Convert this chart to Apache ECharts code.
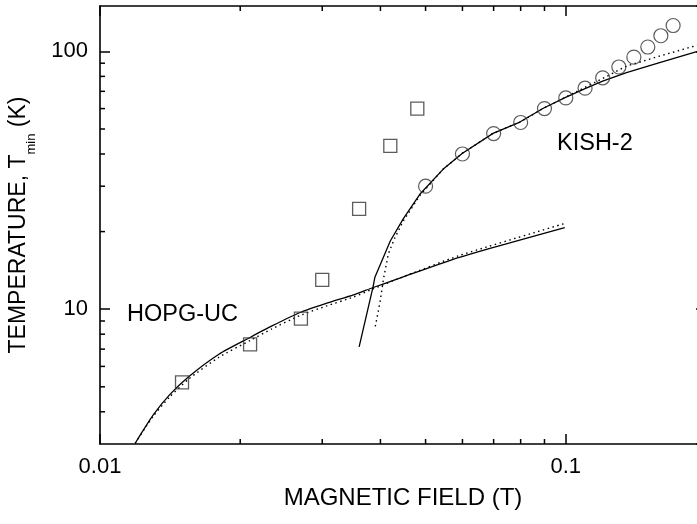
<!DOCTYPE html>
<html>
<head>
<meta charset="utf-8">
<script src="https://cdn.jsdelivr.net/npm/echarts@6/dist/echarts.min.js"></script>
<style>
html,body{margin:0;padding:0;background:#fff;overflow:hidden;width:697px;height:524px;}
#chart{width:720px;height:524px;}
</style>
</head>
<body>
<div id="chart"></div>
<script>
// ---- data ----
const hopgX = [0.015, 0.021, 0.027, 0.030, 0.036, 0.042, 0.048];
const hopgY = [5.2, 7.3, 9.2, 13.0, 24.5, 43, 60];
const kishX = [0.05, 0.06, 0.07, 0.08, 0.09, 0.10, 0.11, 0.12, 0.13, 0.14, 0.15, 0.16, 0.17];
const kishY = [30, 40, 48, 53, 60, 66, 72, 79, 87, 95, 104, 115, 126];

const hopgFitX = [0.0119, 0.0130, 0.0141, 0.0155, 0.0180, 0.0210, 0.0234, 0.0269, 0.0307, 0.0350, 0.0386, 0.0440, 0.0588, 0.0995];
const hopgFitY = [3.02, 3.88, 4.65, 5.47, 6.69, 7.77, 8.61, 9.71, 10.55, 11.36, 12.14, 13.19, 15.86, 20.74];
const hopgDotX = [0.0119, 0.0130, 0.0141, 0.0155, 0.0180, 0.0210, 0.0234, 0.0269, 0.0307, 0.0350, 0.0386, 0.0440, 0.0588, 0.0995];
const hopgDotY = [3.02, 3.84, 4.56, 5.36, 6.51, 7.56, 8.39, 9.46, 10.3, 11.15, 12.0, 13.19, 16.1, 21.5];

const kishFitX = [0.0360, 0.0386, 0.0389, 0.0420, 0.0448, 0.0486, 0.0545, 0.0599, 0.0698, 0.0797, 0.0897, 0.0999, 0.110, 0.120, 0.135, 0.159, 0.191, 0.2];
const kishFitY = [7.14, 12.3, 13.27, 18.39, 22.47, 27.91, 34.88, 40.2, 48.1, 53.2, 60.3, 66.3, 71.7, 76.7, 82.7, 90.4, 99.7, 102];
const kishDotX = [0.0390, 0.0399, 0.0406, 0.0416, 0.0430, 0.0448, 0.0486, 0.0545, 0.0599, 0.0698, 0.0797, 0.0897, 0.0999, 0.110, 0.120, 0.135, 0.159, 0.191, 0.2];
const kishDotY = [8.57, 10.6, 13.07, 16.4, 19.0, 22.0, 27.6, 34.88, 40.2, 48.1, 53.2, 60.3, 66.5, 72.5, 78.5, 87.7, 95.9, 105.5, 108];

const xMinorTicks = [0.02, 0.03, 0.04, 0.05, 0.06, 0.07, 0.08, 0.09];
const yMinorTicks = [4, 5, 6, 7, 8, 9, 20, 30, 40, 50, 60, 70, 80, 90];

const xTitle = 'MAGNETIC FIELD (T)';
const yTitleMain = 'TEMPERATURE, T';
const yTitleSub = 'min';
const yTitleEnd = ' (K)';
const labelHOPG = 'HOPG-UC';
const labelKISH = 'KISH-2';

// ---- chart ----
const FONT = 'Liberation Sans, Arial, Helvetica, sans-serif';
const zip = (xs, ys) => xs.map((x, i) => [x, ys[i]]);
const pow10Label = v => {
  const l = Math.log10(v);
  return Math.abs(l - Math.round(l)) < 1e-6 ? String(+v.toPrecision(3)) : '';
};
const axisCommon = {
  type: 'log', logBase: 10,
  axisLine: { show: true, lineStyle: { color: '#000', width: 1.6 } },
  axisTick: { show: true, inside: true, length: 10, lineStyle: { color: '#000', width: 1.5 } },
  splitLine: { show: false },
  minorTick: { show: false },
};
const chart = echarts.init(document.getElementById('chart'), null, { renderer: 'canvas' });
const tickStyle = { stroke: '#000', lineWidth: 1.5 };

chart.setOption({
  animation: false,
  backgroundColor: '#fff',
  grid: { left: 100, top: 6, width: 606, height: 438, containLabel: false, outerBoundsMode: 'none' },
  xAxis: [
    Object.assign({}, axisCommon, {
      position: 'bottom', min: 0.01, max: 0.2,
      axisLabel: { formatter: pow10Label, fontSize: 22, color: '#000', fontFamily: FONT, margin: 12, showMaxLabel: false },
      name: xTitle, nameLocation: 'middle', nameGap: 42,
      nameTextStyle: { fontSize: 24, color: '#000', fontFamily: FONT }
    }),
    Object.assign({}, axisCommon, {
      position: 'top', min: 0.01, max: 0.2, axisLabel: { show: false }
    })
  ],
  yAxis: [
    Object.assign({}, axisCommon, {
      position: 'left', min: 3, max: 150,
      axisLabel: { formatter: pow10Label, fontSize: 22, color: '#000', fontFamily: FONT, margin: 12, showMinLabel: false, showMaxLabel: false },
      name: '{a|' + yTitleMain + '}{b|' + yTitleSub + '}{a|' + yTitleEnd + '}',
      nameLocation: 'middle', nameGap: 62, nameRotate: 90,
      nameTextStyle: {
        color: '#000', fontFamily: FONT,
        rich: {
          a: { fontSize: 23, color: '#000', fontFamily: FONT, padding: [0, 0, 8, 0] },
          b: { fontSize: 13, color: '#000', fontFamily: FONT, verticalAlign: 'bottom' }
        }
      }
    }),
    Object.assign({}, axisCommon, {
      position: 'right', min: 3, max: 150, axisLabel: { show: false }
    })
  ],
  graphic: [
    { type: 'text', x: 127, y: 315, style: { text: labelHOPG, font: '23.5px ' + FONT, fill: '#000', align: 'left', verticalAlign: 'middle' } },
    { type: 'text', x: 557, y: 144, style: { text: labelKISH, font: '23.5px ' + FONT, fill: '#000', align: 'left', verticalAlign: 'middle' } }
  ],
  series: [
    {
      type: 'line', data: zip(hopgFitX, hopgFitY), showSymbol: false, symbol: 'none', smooth: 0.2,
      lineStyle: { color: '#000', width: 1.3 }, clip: true, z: 3
    },
    {
      type: 'line', data: zip(hopgDotX, hopgDotY), showSymbol: false, symbol: 'none', smooth: 0.2,
      lineStyle: { color: '#000', width: 1.4, type: [1.5, 3.5] }, clip: true, z: 3
    },
    {
      type: 'line', data: zip(kishFitX, kishFitY), showSymbol: false, symbol: 'none',
      lineStyle: { color: '#000', width: 1.3 }, clip: true, z: 3
    },
    {
      type: 'line', data: zip(kishDotX, kishDotY), showSymbol: false, symbol: 'none',
      lineStyle: { color: '#000', width: 1.4, type: [1.5, 3.5] }, clip: true, z: 3
    },
    {
      type: 'scatter', data: zip(hopgX, hopgY), symbol: 'rect', symbolSize: 13,
      itemStyle: { color: 'rgba(0,0,0,0)', borderColor: '#333', borderWidth: 1.3 }, z: 4
    },
    {
      type: 'scatter', data: zip(kishX, kishY), symbol: 'circle', symbolSize: 14,
      itemStyle: { color: 'rgba(0,0,0,0)', borderColor: '#333', borderWidth: 1.2 }, z: 4
    },
    {
      type: 'custom', silent: true, z: 5,
      data: xMinorTicks.map(v => [v, 10]),
      renderItem: (params, api) => {
        const cs = params.coordSys;
        const px = api.coord([api.value(0), api.value(1)])[0];
        return { type: 'group', children: [
          { type: 'line', shape: { x1: px, y1: cs.y + cs.height, x2: px, y2: cs.y + cs.height - 5 }, style: tickStyle },
          { type: 'line', shape: { x1: px, y1: cs.y, x2: px, y2: cs.y + 5 }, style: tickStyle }
        ] };
      }
    },
    {
      type: 'custom', silent: true, z: 5,
      data: yMinorTicks.map(v => [0.05, v]),
      renderItem: (params, api) => {
        const cs = params.coordSys;
        const py = api.coord([api.value(0), api.value(1)])[1];
        return { type: 'group', children: [
          { type: 'line', shape: { x1: cs.x, y1: py, x2: cs.x + 5, y2: py }, style: tickStyle },
          { type: 'line', shape: { x1: cs.x + cs.width, y1: py, x2: cs.x + cs.width - 5, y2: py }, style: tickStyle }
        ] };
      }
    }
  ]
});
</script>
</body>
</html>
